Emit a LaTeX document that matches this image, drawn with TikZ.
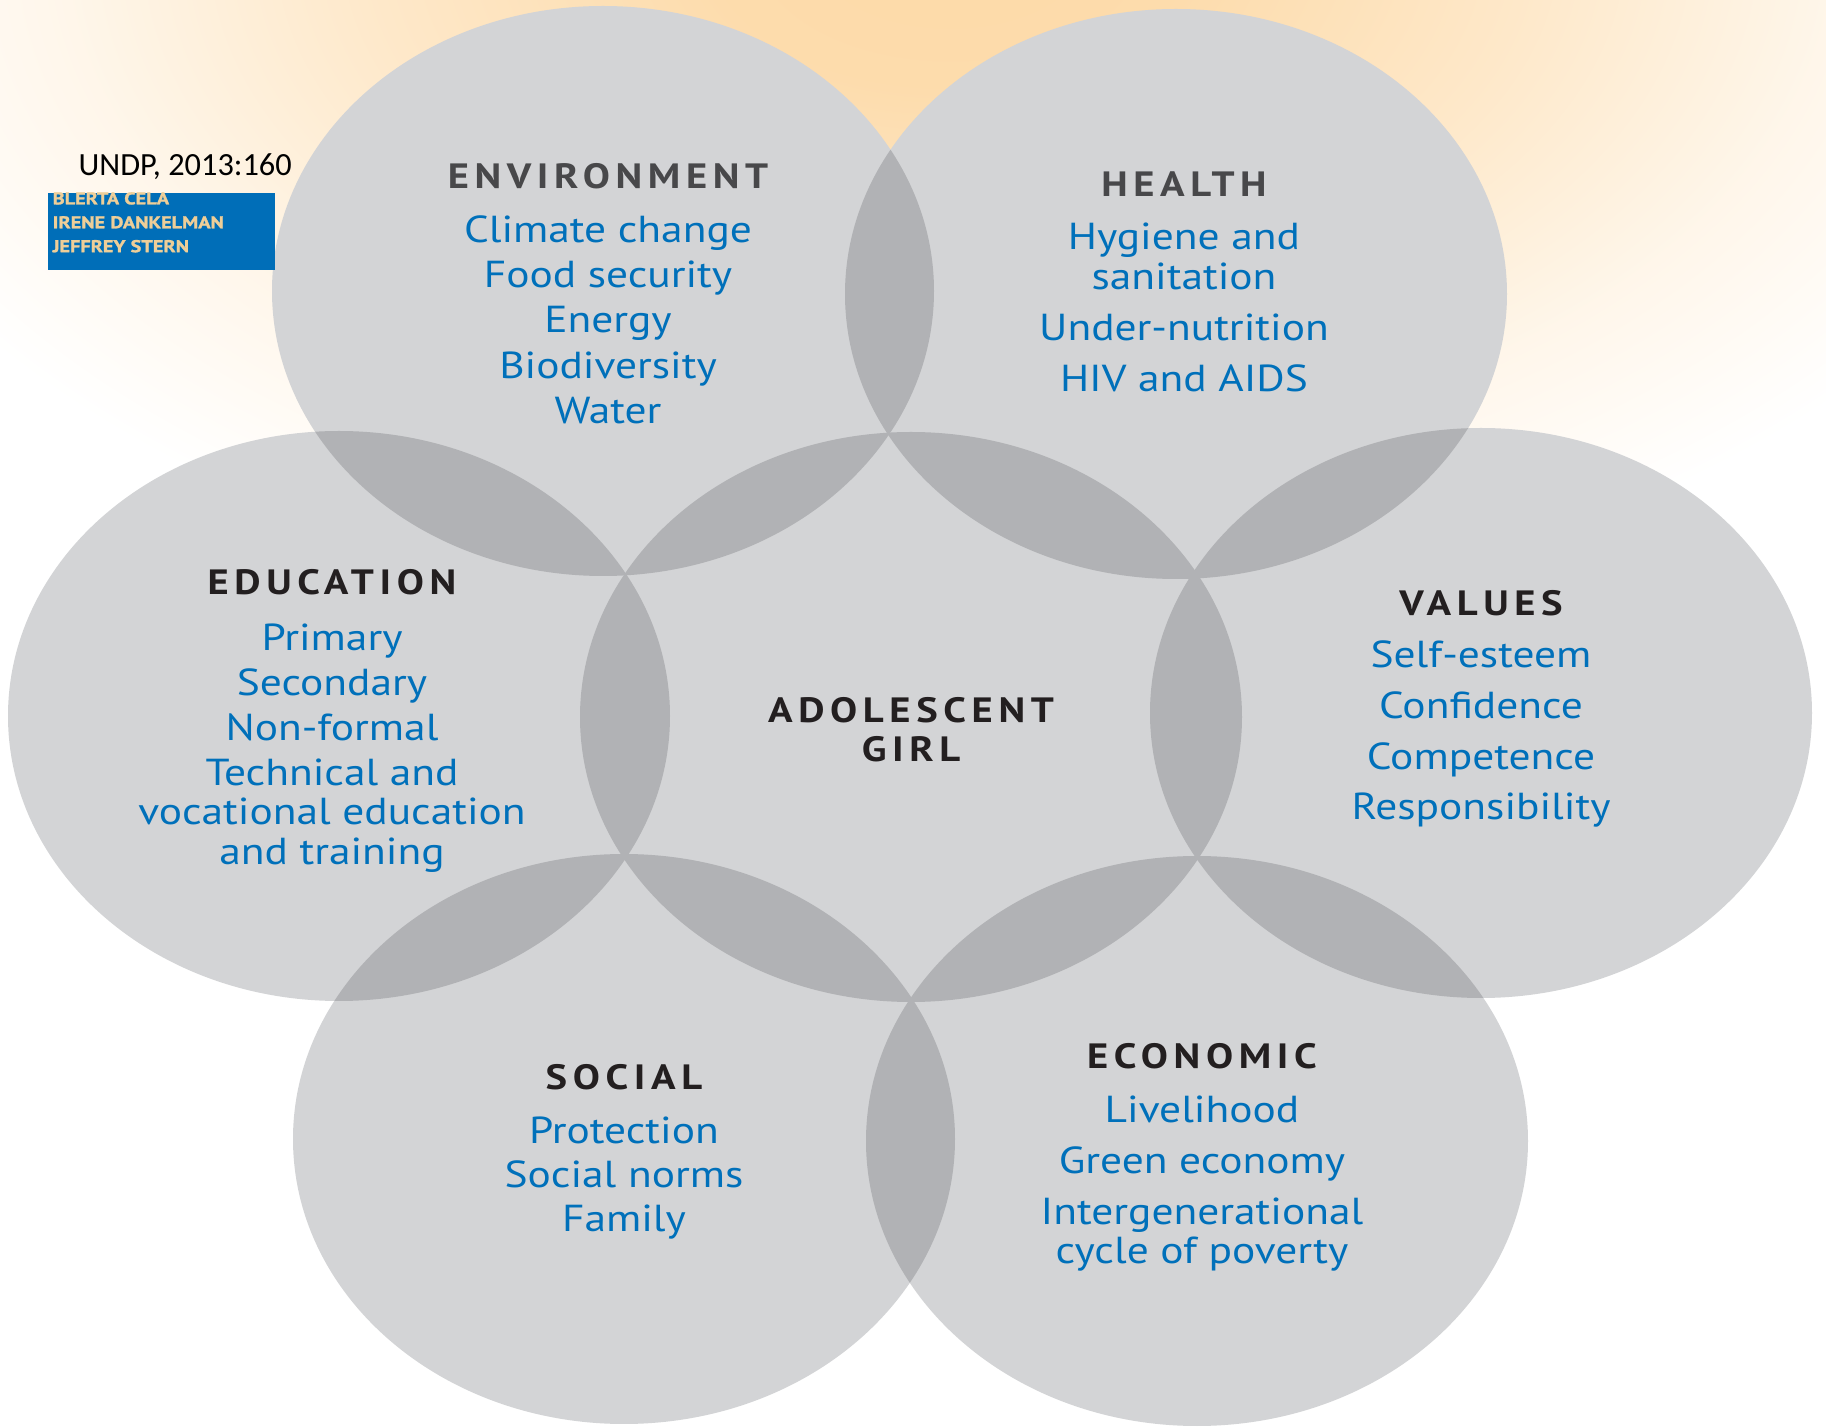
\documentclass[tikz,border=0pt]{standalone}
\usepackage{fontspec}
\setmainfont{PT Sans}[FakeStretch=1.155]
\newfontfamily\headfont{PT Sans}[FakeStretch=1.155, LetterSpace=16]
\newfontfamily\srcfont{Carlito}
\newfontfamily\coverfont{PT Sans}[FakeStretch=1.19, FakeBold=1.5]

\definecolor{discgray}{RGB}{211,212,214}
\definecolor{lensgray}{RGB}{177,178,181}
\definecolor{itemblue}{RGB}{0,112,186}
\definecolor{headgray}{RGB}{72,72,74}
\definecolor{headdark}{RGB}{35,31,32}
\definecolor{peach}{RGB}{253,218,168}
\definecolor{coverblue}{RGB}{0,110,184}
\definecolor{covertext}{RGB}{238,206,152}

\pgfdeclareradialshading{glow}{\pgfpoint{0bp}{0bp}}{color(0bp)=(peach); color(5bp)=(peach!95!white); color(12bp)=(peach!62!white); color(18.5bp)=(peach!24!white); color(24.5bp)=(white); color(50bp)=(white)}

\newcommand{\head}[2][headdark]{{\headfont\bfseries\fontsize{10}{11.2}\selectfont\color{#1}#2}}
\newcommand{\itemfont}{\fontsize{10.7}{11.2}\selectfont\lineskiplimit=-20pt\relax}

\begin{document}
\begin{tikzpicture}[
  topic/.style={align=center, inner sep=0pt, anchor=north, text=itemblue, font=\itemfont},
  disc/.style={fill=discgray},
  lens/.style={fill=lensgray}]
\def\rx{3.31}
\def\ry{2.85}
\useasboundingbox (0,0) rectangle (18.26,14.28);
\fill[white] (0,0) rectangle (18.26,14.28);
\begin{scope}
\clip (0,0) rectangle (18.26,14.28);
\shade[shading=glow] (9.5,14.8) ellipse [x radius=12, y radius=7];
\end{scope}
% centres of the seven discs
\coordinate (girl) at (9.11,7.11);
\coordinate (env) at (6.03,11.37);
\coordinate (health) at (11.76,11.34);
\coordinate (edu) at (3.39,7.12);
\coordinate (values) at (14.81,7.15);
\coordinate (social) at (6.24,2.89);
\coordinate (econ) at (11.97,2.87);
\foreach \c in {girl,env,health,edu,values,social,econ}
  \fill[disc] (\c) ellipse [x radius=\rx, y radius=\ry];
% darker lenses where two discs overlap
\foreach \a/\b in {girl/env,girl/health,girl/edu,girl/values,girl/social,girl/econ,
    env/health,health/values,values/econ,econ/social,social/edu,edu/env}{
  \begin{scope}
  \clip (\a) ellipse [x radius=\rx, y radius=\ry];
  \fill[lens] (\b) ellipse [x radius=\rx, y radius=\ry];
  \end{scope}
}
\node[topic] (envtext) at (6.08,12.65) {\head[headgray]{ENVIRONMENT}\\[4pt]
  Climate change\\[1.7pt] Food security\\[1.7pt] Energy\\[1.7pt] Biodiversity\\[1.7pt] Water};
\node[topic] (healthtext) at (11.84,12.57) {\head[headgray]{HEALTH}\\[4pt]
  Hygiene and\\ sanitation\\[3.3pt] Under-nutrition\\[3.3pt] HIV and AIDS};
\node[topic] (edutext) at (3.32,8.59) {\head{EDUCATION}\\[4.6pt]
  Primary\\[1.6pt] Secondary\\[1.6pt] Non-formal\\[1.6pt] Technical and\\ vocational education\\ and training};
\node[topic] (valuestext) at (14.81,8.38) {\head{VALUES}\\[3.4pt]
  Self-esteem\\[3.3pt] Confidence\\[3.3pt] Competence\\[3.3pt] Responsibility};
\node[topic] (socialtext) at (6.24,3.64) {\head{SOCIAL}\\[4pt]
  Protection\\[1.4pt] Social norms\\[1.4pt] Family};
\node[topic] (econtext) at (12.02,3.85) {\head{ECONOMIC}\\[4pt]
  Livelihood\\[3.3pt] Green economy\\[3.3pt] Intergenerational\\ cycle of poverty};
\node[align=center, inner sep=0pt, font=\fontsize{10}{11}\selectfont] (girltext) at (9.11,6.985)
  {\head{ADOLESCENT}\\ \head{GIRL}};
% source and book cover strip
\node[anchor=base west, inner sep=0pt, font=\srcfont\fontsize{9.2}{11}\selectfont] (source) at (0.78,12.52) {UNDP, 2013:160};
\fill[coverblue] (0.48,11.58) rectangle (2.75,12.35);
\begin{scope}
\clip (0.48,11.58) rectangle (2.75,12.35);
\node[anchor=north west, inner sep=0pt, align=left, text=covertext,
  font=\coverfont\bfseries\fontsize{4.85}{6.8}\selectfont] (authors) at (0.52,12.365)
  {BLERTA CELA\\ IRENE DANKELMAN\\ JEFFREY STERN};
\end{scope}
\end{tikzpicture}
\end{document}
